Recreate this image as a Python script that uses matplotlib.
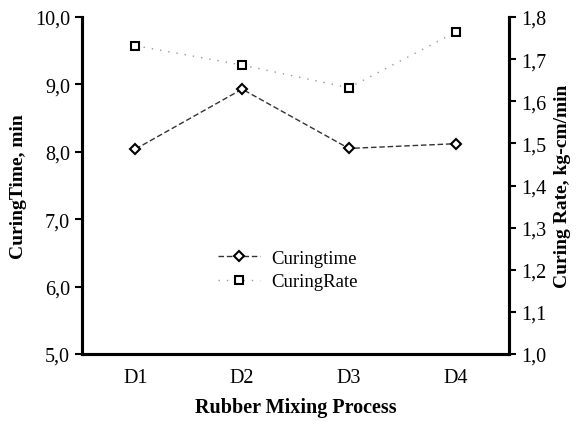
import matplotlib
matplotlib.use("Agg")
import matplotlib.pyplot as plt
from matplotlib.ticker import FuncFormatter

# data
processes = ["D1", "D2", "D3", "D4"]
curing_time = [8.04, 8.93, 8.05, 8.12]
curing_rate = [1.732, 1.686, 1.632, 1.764]

plt.rcParams["font.family"] = ["Liberation Serif", "DejaVu Serif"]

fig = plt.figure(figsize=(5.84, 4.27), dpi=100)
ax = fig.add_axes([82 / 584, 1 - 355 / 427, (509 - 82) / 584, (355 - 18) / 427])
ax2 = ax.twinx()

x = list(range(len(processes)))
l1, = ax.plot(x, curing_time, color="#333333", ls=(0, (4, 2)), lw=1.0,
              marker="D", ms=5, mfc="white", mec="black", mew=1.5, label="Curingtime")
l2, = ax2.plot(x, curing_rate, color="#999999", ls=(0, (1, 5)), lw=1.0,
               marker="s", ms=6, mfc="white", mec="black", mew=1.5, label="CuringRate")

ax.set_xlim(-0.5, 3.5)
ax.set_ylim(5.0, 10.0)
ax2.set_ylim(1.0, 1.8)
ax.set_yticks([5, 6, 7, 8, 9, 10])
ax2.set_yticks([1.0, 1.1, 1.2, 1.3, 1.4, 1.5, 1.6, 1.7, 1.8])
comma = FuncFormatter(lambda v, p: f"{v:.1f}".replace(".", ","))
ax.yaxis.set_major_formatter(comma)
ax2.yaxis.set_major_formatter(comma)
ax.set_xticks(x)
ax.set_xticklabels(processes)

for a in (ax, ax2):
    a.spines["top"].set_visible(False)
    a.spines["left"].set_linewidth(2.2)
    a.spines["right"].set_linewidth(2.2)
    a.spines["bottom"].set_linewidth(2.2)
    a.tick_params(axis="y", labelsize=14.5, width=1.5, length=5, direction="out")
ax.tick_params(axis="x", length=0, labelsize=14.5, pad=10)

ax.set_xlabel("Rubber Mixing Process", fontsize=14.5, fontweight="bold", labelpad=7)
ax.set_ylabel("CuringTime, min", fontsize=14, fontweight="bold", labelpad=6)
ax2.set_ylabel("Curing Rate, kg-cm/min", fontsize=14, fontweight="bold", labelpad=6)

ax.legend(handles=[l1, l2], loc="upper left", bbox_to_anchor=(0.28, 0.36),
          frameon=False, fontsize=13.5, handlelength=2.2, handletextpad=0.6,
          labelspacing=0.35)

fig.savefig("out.png", dpi=100)
